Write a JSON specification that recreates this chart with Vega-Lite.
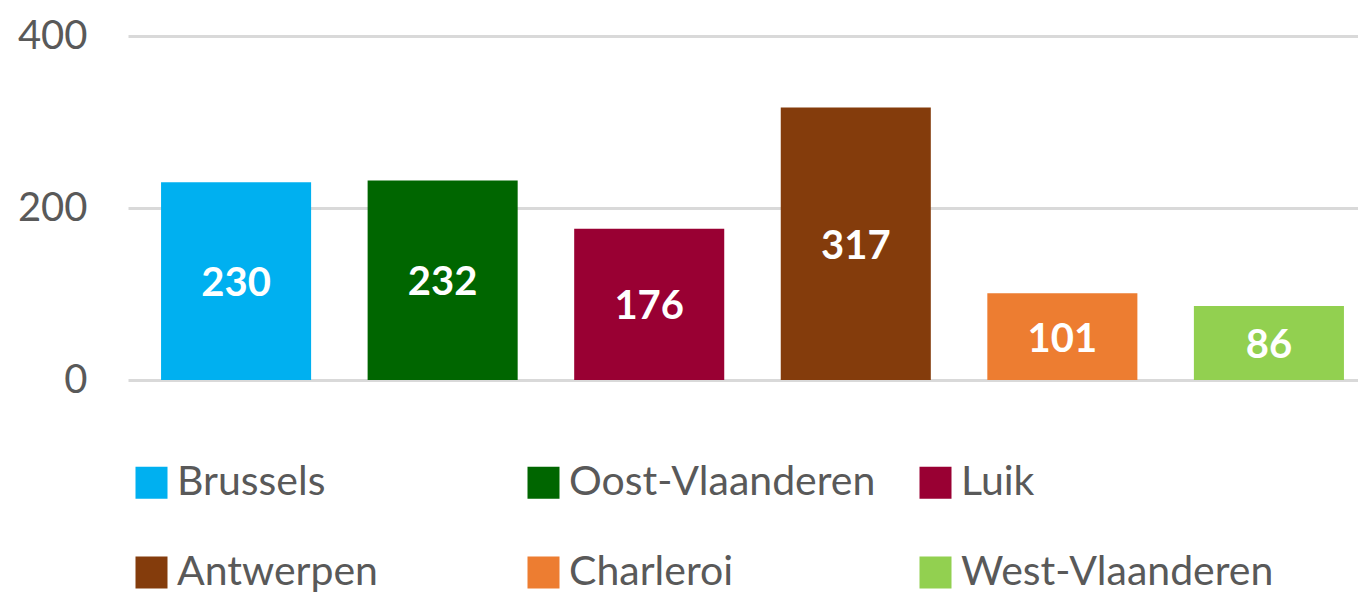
{
  "$schema": "https://vega.github.io/schema/vega-lite/v6.json",
  "width": 1249,
  "height": 344,
  "autosize": {"type": "none"},
  "padding": {"left": 128, "top": 36, "right": 0, "bottom": 213},
  "background": "white",
  "config": {"view": {"stroke": null}, "font": "Lato"},
  "data": {
    "values": [
      {"region": "Brussels", "value": 230},
      {"region": "Oost-Vlaanderen", "value": 232},
      {"region": "Luik", "value": 176},
      {"region": "Antwerpen", "value": 317},
      {"region": "Charleroi", "value": 101},
      {"region": "West-Vlaanderen", "value": 86}
    ]
  },
  "encoding": {
    "x": {
      "field": "region",
      "type": "nominal",
      "sort": null,
      "axis": null,
      "scale": {"paddingInner": 0.2736, "paddingOuter": 0.16}
    },
    "y": {
      "field": "value",
      "type": "quantitative",
      "scale": {"domain": [0, 400]},
      "axis": {
        "values": [0, 200, 400],
        "title": null,
        "domain": false,
        "ticks": false,
        "labelFontSize": 40,
        "labelColor": "#595959",
        "labelPadding": 41,
        "gridColor": "#d9d9d9",
        "gridWidth": 3
      }
    }
  },
  "layer": [
    {
      "mark": {"type": "bar"},
      "encoding": {
        "color": {
          "field": "region",
          "type": "nominal",
          "scale": {
            "domain": ["Brussels", "Oost-Vlaanderen", "Luik", "Antwerpen", "Charleroi", "West-Vlaanderen"],
            "range": ["#00B0F0", "#006600", "#990033", "#843C0C", "#ED7D31", "#92D050"]
          },
          "legend": {
            "orient": "none",
            "legendX": 3,
            "legendY": 426,
            "direction": "horizontal",
            "columns": 3,
            "gridAlign": "all",
            "padding": 0,
            "title": null,
            "symbolType": "square",
            "symbolSize": 1024,
            "symbolStrokeWidth": 0,
            "symbolOpacity": 1,
            "labelFontSize": 41,
            "labelColor": "#595959",
            "labelOffset": 5,
            "labelLimit": 0,
            "rowPadding": 48,
            "columnPadding": 33
          }
        }
      }
    },
    {
      "mark": {
        "type": "text",
        "color": "white",
        "fontSize": 40,
        "fontWeight": "bold",
        "baseline": "middle",
        "dy": {"expr": "(scale('y', 0) - scale('y', datum.value)) / 2 + 3"}
      },
      "encoding": {"text": {"field": "value", "type": "quantitative"}}
    }
  ]
}
